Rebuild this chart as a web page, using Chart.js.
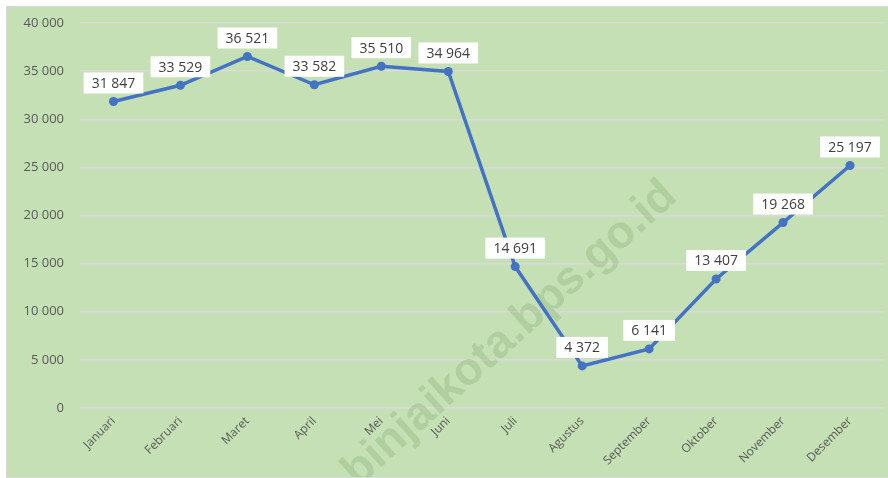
<!DOCTYPE html>
<html>
<head>
<meta charset="utf-8">
<script src="https://cdn.jsdelivr.net/npm/chart.js@4"></script>
<style>
  html, body { margin: 0; padding: 0; background: #fff; }
  #wrap {
    position: absolute; left: 6px; top: 6px;
    width: 881px; height: 470px;
    border: 1px solid #d9d9d9; border-right: none;
    background: #c5e0b4;
  }
  canvas { display: block; }
</style>
</head>
<body>
<div id="wrap"><canvas id="chartBulanan" width="881" height="470"></canvas></div>
<script>
// data per bulan
const bulan = ['Januari','Februari','Maret','April','Mei','Juni','Juli','Agustus','September','Oktober','November','Desember'];
const nilai = [31847, 33529, 36521, 33582, 35510, 34964, 14691, 4372, 6141, 13407, 19268, 25197];
const yMin = 0, yMax = 40000, yStep = 5000;
const watermark = 'binjaikota.bps.go.id';

const fmt = v => String(v).replace(/\B(?=(\d{3})+(?!\d))/g, ' ');

// watermark miring di belakang garis
const watermarkPlugin = {
  id: 'watermark',
  beforeDatasetsDraw(chart) {
    const c = chart.ctx;
    c.save();
    c.translate(503, 327);
    c.rotate(-42 * Math.PI / 180);
    c.font = 'bold 46px "Liberation Sans", Arial, sans-serif';
    c.fillStyle = 'rgba(95,140,75,0.2)';
    c.textAlign = 'center';
    c.textBaseline = 'middle';
    c.fillText(watermark, 0, 0);
    c.restore();
  }
};

// label nilai dalam kotak putih
const boxLabels = {
  id: 'boxLabels',
  afterDatasetsDraw(chart) {
    const c = chart.ctx;
    const meta = chart.getDatasetMeta(0);
    c.save();
    c.font = '14px "Open Sans", sans-serif';
    c.textAlign = 'center';
    c.textBaseline = 'middle';
    meta.data.forEach((pt, i) => {
      const txt = fmt(nilai[i]);
      const w = c.measureText(txt).width + 16;
      const h = 21;
      const x = pt.x - w / 2;
      const y = pt.y - 8 - h;
      c.fillStyle = '#ffffff';
      c.fillRect(x, y, w, h);
      c.fillStyle = '#404040';
      c.fillText(txt, pt.x, y + h / 2 + 1);
    });
    c.restore();
  }
};

const ctx = document.getElementById('chartBulanan').getContext('2d');
new Chart(ctx, {
  type: 'line',
  data: {
    labels: bulan,
    datasets: [{
      data: nilai,
      borderColor: '#4472c4',
      backgroundColor: '#4472c4',
      borderWidth: 3.5,
      pointRadius: 4.5,
      pointHoverRadius: 4.5,
      pointBorderWidth: 0,
      tension: 0,
      fill: false
    }]
  },
  options: {
    responsive: false,
    animation: false,
    layout: { padding: { top: 16, right: 2, left: 0, bottom: 0 } },
    plugins: {
      legend: { display: false },
      tooltip: { enabled: false }
    },
    scales: {
      x: {
        offset: true,
        afterFit: s => { s.height = 69; s.paddingLeft = 0; s.paddingRight = 0; },
        grid: { display: false, drawTicks: false, offset: true },
        border: { display: false },
        ticks: {
          autoSkip: false,
          minRotation: 45,
          maxRotation: 45,
          padding: 6,
          color: '#595959',
          font: { family: 'Open Sans', size: 12 }
        }
      },
      y: {
        min: yMin,
        max: yMax,
        afterFit: s => { s.width = 73; s.paddingTop = 0; s.paddingBottom = 0; },
        grid: { color: '#d9d9d9', lineWidth: 1.5, drawTicks: false },
        border: { display: false },
        ticks: {
          stepSize: yStep,
          padding: 16,
          color: '#595959',
          font: { family: 'Open Sans', size: 13 },
          callback: v => fmt(v)
        }
      }
    }
  },
  plugins: [watermarkPlugin, boxLabels]
});
</script>
</body>
</html>
